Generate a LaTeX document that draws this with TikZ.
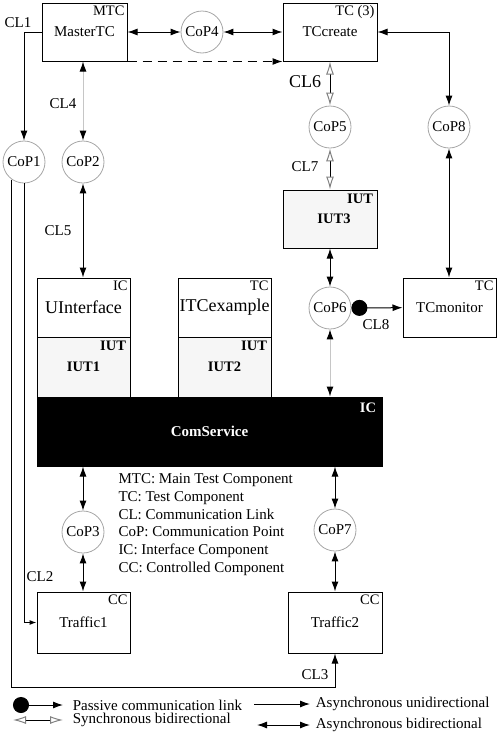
\documentclass[tikz,border=0pt]{standalone}
\usepackage{fontspec}
\setmainfont{Liberation Serif}
\usetikzlibrary{arrows.meta}

\tikzset{
  box/.style={draw,line width=1pt,minimum width=93pt,minimum height=59pt,inner sep=0pt},
  iut/.style={box,fill=gray!7,font=\fontsize{14.5}{17}\selectfont\bfseries},
  cop/.style={circle,draw=gray!70,line width=0.8pt,minimum size=42pt,inner sep=0pt},
  tag/.style={anchor=north east,inner sep=2.5pt,font=\fontsize{14.5}{16}\selectfont},
  btag/.style={tag,inner sep=4pt,font=\fontsize{14.5}{16}\selectfont\bfseries},
  big/.style={font=\fontsize{18}{20}\selectfont},
  >={Latex[length=10pt,width=7pt]},
  abig/.style={<->,draw=gray!45,>={Latex[length=10pt,width=7pt,color=black]}},
  sbi/.style={{Latex[open,color=gray,length=13pt,width=8pt]}-{Latex[open,color=gray,length=13pt,width=8pt]}},
  pas/.style={{Circle[length=16pt]}->},
}

\begin{document}
\begin{tikzpicture}[x=1pt,y=-1pt,line width=1pt,font=\fontsize{15}{17.8}\selectfont]
\useasboundingbox (0,0) rectangle (500,734);

% components
\node[box,minimum width=85pt,minimum height=58pt] (MasterTC) at (84.5,32) {MasterTC};
\node[tag] at (MasterTC.north east) {MTC};
\node[box,minimum width=94pt,minimum height=58pt] (TCcreate) at (330,32) {TCcreate};
\node[tag] at (TCcreate.north east) {TC (3)};
\node[iut,minimum width=94pt,minimum height=58pt] (IUT3) at (330,219) {\hspace*{8pt}IUT3};
\node[btag] at (IUT3.north east) {IUT};
\node[box] (TCmonitor) at (449.5,307.5) {TCmonitor};
\node[tag] at (TCmonitor.north east) {TC};
\node[box,big] (UInterface) at (83.5,307.5) {\raisebox{-4pt}{UInterface}};
\node[tag] at (UInterface.north east) {IC};
\node[box,big] (ITCexample) at (224.5,307.5) {\raisebox{-4pt}{ITCexample}};
\node[tag] at (ITCexample.north east) {TC};
\node[iut,minimum height=60pt] (IUT1) at (83.5,367) {IUT1};
\node[btag] at (IUT1.north east) {IUT};
\node[iut,minimum height=60pt] (IUT2) at (224.5,367) {IUT2};
\node[btag] at (IUT2.north east) {IUT};
\node[box,fill=black,text=white,font=\fontsize{15}{17}\selectfont\bfseries,minimum width=345pt,minimum height=69pt] (ComService) at (209.5,431.5) {ComService};
\node[btag,text=white,inner sep=6pt] at (ComService.north east) {IC};
\node[box,minimum height=61pt] (Traffic1) at (83.5,622.5) {Traffic1};
\node[tag] at (Traffic1.north east) {CC};
\node[box,minimum width=94pt,minimum height=61pt] (Traffic2) at (335,622.5) {Traffic2};
\node[tag] at (Traffic2.north east) {CC};

% communication points
\node[cop] (CoP1) at (24,162) {CoP1};
\node[cop] (CoP2) at (83,162) {CoP2};
\node[cop] (CoP4) at (202,32) {CoP4};
\node[cop] (CoP5) at (330,127) {CoP5};
\node[cop] (CoP8) at (449,127) {CoP8};
\node[cop] (CoP6) at (330,308) {CoP6};
\node[cop] (CoP3) at (83,532) {CoP3};
\node[cop] (CoP7) at (335,530) {CoP7};

% links
\draw[<->] (MasterTC) -- (CoP4);
\draw[<->] (CoP4) -- (TCcreate);
\draw[->,dashed,dash pattern=on 9pt off 6pt] (MasterTC.south east) -- (TCcreate.south west);
\draw[->] (MasterTC.west) -| (CoP1.north);
\draw[abig] (CoP2.north |- MasterTC.south) -- (CoP2);
\draw[<->] (CoP2) -- (CoP2 |- UInterface.north);
\draw[<->] (TCcreate.east) -| (CoP8.north);
\draw[<->] (CoP8) -- (CoP8 |- TCmonitor.north);
\draw[sbi] (CoP5 |- TCcreate.south) -- (CoP5);
\draw[sbi] (CoP5) -- (IUT3);
\draw[<->] (IUT3) -- (CoP6);
\draw[abig] (CoP6) -- (CoP6 |- ComService.north);
\draw[pas] (CoP6) -- (TCmonitor);
\draw[<->] (CoP3 |- ComService.south) -- (CoP3);
\draw[<->] (CoP3) -- (CoP3 |- Traffic1.north);
\draw[<->] (CoP7 |- ComService.south) -- (CoP7);
\draw[<->] (CoP7) -- (Traffic2);
\draw[->,>={Latex[length=7pt,width=5pt]}] (CoP1.south) |- (Traffic1.west);
\coordinate (cl3turn) at ([yshift=-34pt]Traffic2.south);
\draw[->] (CoP1.-125) |- (cl3turn) -- (Traffic2.south);

% link labels
\node (cl1) at (18,23) {CL1};
\node (cl4) at (63,104) {CL4};
\node (cl5) at (58,231) {CL5};
\node (cl2) at (40,577) {CL2};
\node (cl3) at (315,675) {CL3};
\node[font=\fontsize{18}{20}\selectfont] (cl6) at (305,82) {CL6};
\node (cl7) at (305,167) {CL7};
\node (cl8) at (376,325) {CL8};

% abbreviations
\node[anchor=north west,align=left,inner sep=2pt] (abbr) at (116,471) {MTC: Main Test Component\\TC: Test Component\\CL: Communication Link\\CoP: Communication Point\\IC: Interface Component\\CC: Controlled Component};

% legend
\coordinate (lgpa) at (13,705);
\coordinate (lgpb) at (63,705);
\coordinate (lgsa) at (13,720);
\coordinate (lgsb) at (63,720);
\coordinate (lgua) at (254,704);
\coordinate (lgub) at (310,704);
\coordinate (lgba) at (257,725);
\coordinate (lgbb) at (310,725);
\draw[pas] (lgpa) -- (lgpb);
\draw[sbi] (lgsa) -- (lgsb);
\draw[->] (lgua) -- (lgub);
\draw[<->] (lgba) -- (lgbb);
\node[anchor=west] (lgpas) at (69,705) {Passive communication link};
\node[anchor=west] (lgsyn) at (69,720) {Synchronous bidirectional};
\node[anchor=west] (lguni) at (312,704) {Asynchronous unidirectional};
\node[anchor=west] (lgbi) at (312,725) {Asynchronous bidirectional};
\end{tikzpicture}
\end{document}
